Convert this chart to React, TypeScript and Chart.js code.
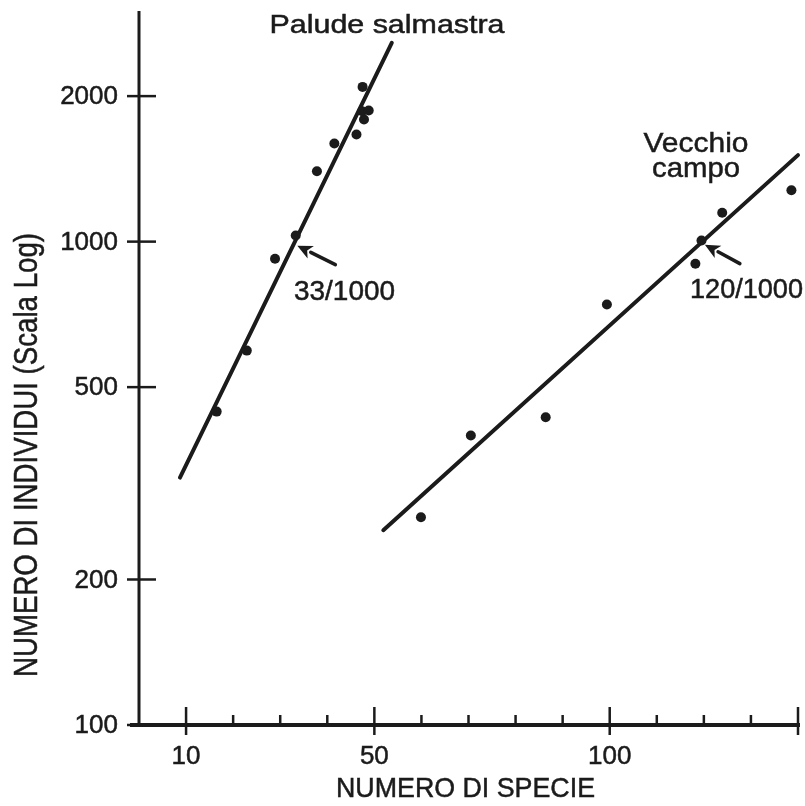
import React, { useEffect, useRef } from "react";
import { Chart, registerables } from "chart.js";

Chart.register(...registerables);

// ---- Data ----
const paludeSpecies = [16.5, 22.9, 28.9, 33.3, 37.8, 41.5, 46.2, 47.8, 47.4, 48.8, 47.5];
const paludeIndividuals = [445, 595, 922, 1030, 1398, 1596, 1666, 1789, 1861, 1867, 2090];
const vecchioSpecies = [59.9, 70.5, 86.4, 99.4, 118.2, 119.5, 123.9, 138.6];
const vecchioIndividuals = [269, 397, 433, 741, 900, 1005, 1147, 1277];

const paludeFitSpecies = [8.7, 53.7];
const paludeFitIndividuals = [325, 2578];
const vecchioFitSpecies = [51.9, 140];
const vecchioFitIndividuals = [253, 1510];

const xMin = 0;
const xMax = 140;
const xStep = 10;
const xLabeledTicks = [10, 50, 100];
const xMajorTicks = [10, 50, 100, 140];
const yMin = 100;
const yMax = 3000;
const yTicks = [100, 200, 500, 1000, 2000];

const xTitle = "NUMERO DI SPECIE";
const yTitle = "NUMERO DI INDIVIDUI (Scala Log)";
const paludeName = "Palude salmastra";
const vecchioNameLines = ["Vecchio", "campo"];
const ratioLabels = ["33/1000", "120/1000"];
const ratioSpecies = [33, 120];
const ratioIndividuals = [1000, 1000];

const INK = "#1b1b1b";
const FONT = '"Liberation Sans", Arial, Helvetica, sans-serif';

function fitText(
  ctx: CanvasRenderingContext2D,
  text: string,
  x: number,
  y: number,
  size: number,
  width: number,
  align: CanvasTextAlign,
  rotate = 0
) {
  ctx.save();
  ctx.font = `${size}px ${FONT}`;
  ctx.fillStyle = INK;
  ctx.strokeStyle = INK;
  const w = ctx.measureText(text).width;
  const s = width / w;
  ctx.translate(x, y);
  if (rotate) ctx.rotate(rotate);
  ctx.scale(s, 1);
  ctx.textAlign = align;
  ctx.textBaseline = "alphabetic";
  ctx.fillText(text, 0, 0);
  ctx.lineWidth = 0.5;
  ctx.strokeText(text, 0, 0);
  ctx.restore();
}

function drawArrow(ctx: CanvasRenderingContext2D, tipX: number, tipY: number, tailX: number, tailY: number) {
  const ang = Math.atan2(tipY - tailY, tipX - tailX);
  const headLen = 15;
  const headHalf = 7;
  const bx = tipX - headLen * Math.cos(ang);
  const by = tipY - headLen * Math.sin(ang);
  ctx.save();
  ctx.strokeStyle = INK;
  ctx.fillStyle = INK;
  ctx.lineWidth = 3.5;
  ctx.lineCap = "round";
  ctx.beginPath();
  ctx.moveTo(tailX, tailY);
  ctx.lineTo(bx, by);
  ctx.stroke();
  ctx.beginPath();
  ctx.moveTo(tipX, tipY);
  ctx.lineTo(bx + headHalf * Math.sin(ang), by - headHalf * Math.cos(ang));
  ctx.lineTo(bx + 4 * Math.cos(ang), by + 4 * Math.sin(ang));
  ctx.lineTo(bx - headHalf * Math.sin(ang), by + headHalf * Math.cos(ang));
  ctx.closePath();
  ctx.fill();
  ctx.restore();
}

const decorPlugin = {
  id: "decor",
  afterDraw(chart: any) {
    const ctx: CanvasRenderingContext2D = chart.ctx;
    const xs = chart.scales.x;
    const ys = chart.scales.y;
    const area = chart.chartArea;
    const axisY = ys.getPixelForValue(yMin);
    const axisX = xs.getPixelForValue(xMin);

    ctx.save();
    ctx.strokeStyle = INK;
    ctx.lineCap = "butt";
    ctx.lineWidth = 3;
    ctx.beginPath();
    ctx.moveTo(axisX, area.top);
    ctx.lineTo(axisX, axisY + 2);
    ctx.stroke();
    ctx.lineWidth = 4;
    ctx.beginPath();
    ctx.moveTo(axisX - 9, axisY);
    ctx.lineTo(xs.getPixelForValue(xMax) + 2, axisY);
    ctx.stroke();

    ctx.lineWidth = 2.5;
    for (let v = xMin + xStep; v <= xMax; v += xStep) {
      const px = xs.getPixelForValue(v);
      const major = xMajorTicks.includes(v);
      ctx.beginPath();
      ctx.moveTo(px, axisY - (major ? 18 : 10));
      ctx.lineTo(px, axisY + (major ? 10 : 0));
      ctx.stroke();
    }
    for (const v of yTicks) {
      const py = ys.getPixelForValue(v);
      ctx.beginPath();
      ctx.moveTo(axisX - 12, py);
      ctx.lineTo(axisX + 17, py);
      ctx.stroke();
    }
    ctx.restore();

    ctx.save();
    ctx.fillStyle = INK;
    ctx.strokeStyle = INK;
    ctx.lineWidth = 0.5;
    ctx.font = `26px ${FONT}`;
    ctx.textAlign = "right";
    ctx.textBaseline = "middle";
    for (const v of yTicks) {
      const py = ys.getPixelForValue(v) + 1;
      ctx.fillText(String(v), axisX - 21, py);
      ctx.strokeText(String(v), axisX - 21, py);
    }
    ctx.textAlign = "center";
    ctx.textBaseline = "alphabetic";
    for (const v of xLabeledTicks) {
      const px = xs.getPixelForValue(v);
      ctx.fillText(String(v), px, axisY + 39);
      ctx.strokeText(String(v), px, axisY + 39);
    }
    ctx.restore();

    fitText(ctx, xTitle, (area.left + area.right) / 2 - 3, 797, 28, 259, "center");
    fitText(ctx, yTitle, 37, 455, 33, 444, "center", -Math.PI / 2);

    fitText(ctx, paludeName, 387, 33, 26, 235, "center");
    fitText(ctx, vecchioNameLines[0], 696, 152, 28, 105, "center");
    fitText(ctx, vecchioNameLines[1], 696, 177, 28, 88, "center");

    const tailDx = [38, 35];
    const tailDy = [19, 19];
    const tipOff = [[3, 4], [1, 3]];
    const labelPos = [[294, 300, 101], [690, 298, 113]];
    for (let i = 0; i < ratioLabels.length; i++) {
      const tx = xs.getPixelForValue(ratioSpecies[i]) + tipOff[i][0];
      const ty = ys.getPixelForValue(ratioIndividuals[i]) + tipOff[i][1];
      drawArrow(ctx, tx, ty, tx + tailDx[i], ty + tailDy[i]);
      fitText(ctx, ratioLabels[i], labelPos[i][0], labelPos[i][1], 27, labelPos[i][2], "left");
    }
  },
};

export default function App() {
  const canvasRef = useRef<HTMLCanvasElement | null>(null);

  useEffect(() => {
    if (!canvasRef.current) return;
    const toPts = (xs: number[], ys: number[]) => xs.map((x, i) => ({ x, y: ys[i] }));
    const chart = new Chart(canvasRef.current, {
      type: "scatter",
      data: {
        datasets: [
          {
            label: "Palude salmastra",
            data: toPts(paludeSpecies, paludeIndividuals),
            backgroundColor: INK,
            borderColor: INK,
            pointRadius: 5,
            pointBorderWidth: 0,
          },
          {
            label: "Vecchio campo",
            data: toPts(vecchioSpecies, vecchioIndividuals),
            backgroundColor: INK,
            borderColor: INK,
            pointRadius: 5,
            pointBorderWidth: 0,
          },
          {
            type: "line",
            label: "Palude fit",
            data: toPts(paludeFitSpecies, paludeFitIndividuals),
            borderColor: INK,
            borderWidth: 4,
            pointRadius: 0,
            showLine: true,
            clip: false,
            borderCapStyle: "round",
          } as any,
          {
            type: "line",
            label: "Vecchio fit",
            data: toPts(vecchioFitSpecies, vecchioFitIndividuals),
            borderColor: INK,
            borderWidth: 4,
            pointRadius: 0,
            showLine: true,
            clip: false,
            borderCapStyle: "round",
          } as any,
        ],
      },
      options: {
        animation: false,
        responsive: false,
        events: [],
        layout: { padding: { left: 139, right: 7, top: 11, bottom: 81 } },
        plugins: { legend: { display: false }, tooltip: { enabled: false } },
        scales: {
          x: { type: "linear", min: xMin, max: xMax, display: false },
          y: { type: "logarithmic", min: yMin, max: yMax, display: false },
        },
      },
      plugins: [decorPlugin],
    });
    return () => chart.destroy();
  }, []);

  return (
    <div style={{ position: "fixed", left: 0, top: 0, width: 805, height: 806, background: "#fff" }}>
      <canvas ref={canvasRef} width={805} height={806} />
    </div>
  );
}
